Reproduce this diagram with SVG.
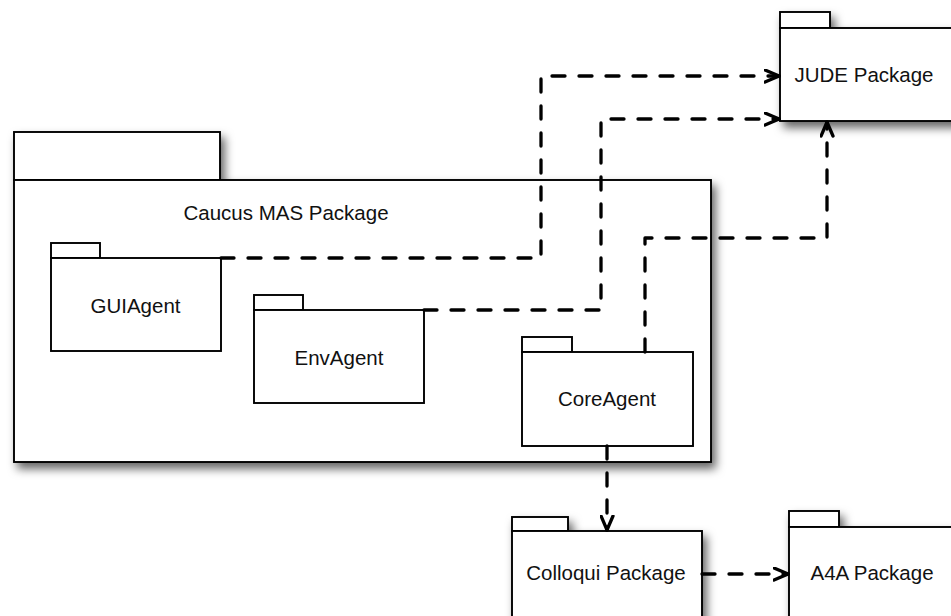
<svg xmlns="http://www.w3.org/2000/svg" width="951" height="616" viewBox="0 0 951 616">
  <style>
    .box { fill: #fff; stroke: #000; stroke-width: 1.9; }
    .lbl { font-family: "Liberation Sans", Arial, sans-serif; font-size: 20.5px; fill: #111; text-anchor: middle; }
    .dep { fill: none; stroke: #000; stroke-width: 3.3; stroke-dasharray: 13 14; stroke-linecap: round; stroke-linejoin: round; marker-end: url(#open); }
  </style>
  <defs>
    <filter id="shadow" x="-10%" y="-10%" width="130%" height="150%">
      <feDropShadow dx="4" dy="6" stdDeviation="5" flood-color="#000" flood-opacity="0.6"/>
    </filter>
    <marker id="open" viewBox="0 0 17 15" refX="15.5" refY="7.5" markerWidth="17" markerHeight="15" orient="auto" markerUnits="userSpaceOnUse">
      <path d="M1.5,1.5 L15.5,7.5 L1.5,13.5" fill="none" stroke="#000" stroke-width="3.3" stroke-linecap="round" stroke-linejoin="miter" stroke-dasharray="none"/>
    </marker>
  </defs>
  <rect width="951" height="616" fill="#fff"/>

  <!-- Caucus MAS package (container) -->
  <g id="caucus">
    <g filter="url(#shadow)">
      <rect class="box" x="14" y="132" width="206" height="48"/>
      <rect class="box" x="14" y="180" width="697" height="282"/>
    </g>
    <text class="lbl" x="286" y="220">Caucus MAS Package</text>
  </g>

  <g id="gui">
    <rect class="box" x="51" y="243" width="49" height="15"/>
    <rect class="box" x="51" y="258" width="170" height="93"/>
    <text class="lbl" x="135.5" y="313">GUIAgent</text>
  </g>

  <g id="env">
    <rect class="box" x="254" y="295" width="49" height="15"/>
    <rect class="box" x="254" y="310" width="170" height="93"/>
    <text class="lbl" x="339" y="365">EnvAgent</text>
  </g>

  <g id="core">
    <rect class="box" x="522" y="337" width="50" height="15"/>
    <rect class="box" x="522" y="352" width="171" height="94"/>
    <text class="lbl" x="607" y="406">CoreAgent</text>
  </g>

  <g id="jude">
    <g filter="url(#shadow)">
      <rect class="box" x="780" y="12" width="50" height="16"/>
      <rect class="box" x="780" y="28" width="180" height="93"/>
    </g>
    <text class="lbl" x="864" y="82">JUDE Package</text>
  </g>

  <g id="colloqui">
    <g filter="url(#shadow)">
      <rect class="box" x="512" y="517" width="56" height="14"/>
      <rect class="box" x="512" y="531" width="190" height="100"/>
    </g>
    <text class="lbl" x="606" y="580">Colloqui Package</text>
  </g>

  <g id="a4a">
    <g filter="url(#shadow)">
      <rect class="box" x="789" y="511" width="50" height="16"/>
      <rect class="box" x="789" y="527" width="180" height="100"/>
    </g>
    <text class="lbl" x="872" y="580">A4A Package</text>
  </g>

  <!-- dependency connectors -->
  <g id="connectors">
    <path class="dep" d="M221,258 H541 V76 H779"/>
    <path class="dep" d="M424,310 H601 V119 H779"/>
    <path class="dep" d="M645,352 V238 H827 V122"/>
    <path class="dep" d="M607,446 V530"/>
    <path class="dep" d="M702,574 H788"/>
  </g>
</svg>
